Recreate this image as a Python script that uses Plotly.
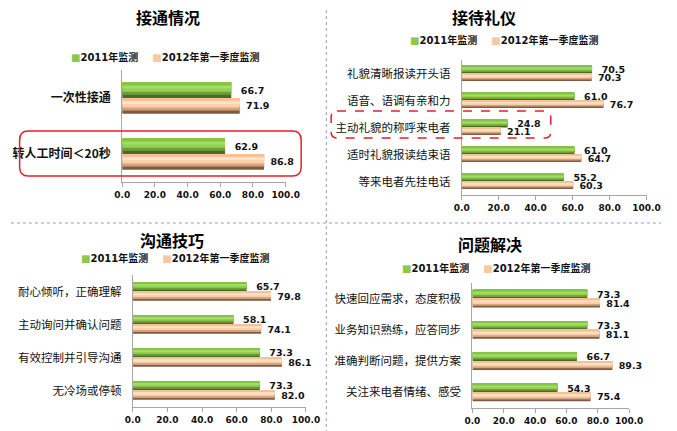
import plotly.graph_objects as go

W, H = 677, 431

name_2011 = '2011年监测'
name_2012 = '2012年第一季度监测'

cats_jietong = ['一次性接通', '转人工时间＜20秒']
jietong_2011 = [66.7, 62.9]
jietong_2012 = [71.9, 86.8]

cats_liyi = ['礼貌清晰报读开头语', '语音、语调有亲和力', '主动礼貌的称呼来电者',
             '适时礼貌报读结束语', '等来电者先挂电话']
liyi_2011 = [70.5, 61.0, 24.8, 61.0, 55.2]
liyi_2012 = [70.3, 76.7, 21.1, 64.7, 60.3]

cats_goutong = ['耐心倾听，正确理解', '主动询问并确认问题', '有效控制并引导沟通', '无冷场或停顿']
goutong_2011 = [65.7, 58.1, 73.3, 73.3]
goutong_2012 = [79.8, 74.1, 86.1, 82.0]

cats_jiejue = ['快速回应需求，态度积极', '业务知识熟练，应答同步', '准确判断问题，提供方案',
               '关注来电者情绪、感受']
jiejue_2011 = [73.3, 73.3, 66.7, 54.3]
jiejue_2012 = [81.4, 81.1, 89.3, 75.4]

# bar shading, listed bottom -> top
green_shades = ['#456e24', '#6e9f38', '#93d054', '#a6db6a', '#84c444']
peach_shades = ['#7d5b42', '#d6a47c', '#f8cfa8', '#fde3c9', '#f5c298']
GREEN = '#8cc84b'
PEACH = '#f8c8a0'
BW = 0.28

CJK = 'Noto Sans CJK SC'
NUM = 'DejaVu Sans, Noto Sans CJK SC'


def X(v):
    return v / W


def Y(v):
    return 1 - v / H


panels = [
    dict(title='接通情况', cats=cats_jietong, a=jietong_2011, b=jietong_2012,
         xd=(118, 287), yd=(70, 182), tpos=(165, 17), lpos=(163, 57), bold=True),
    dict(title='接待礼仪', cats=cats_liyi, a=liyi_2011, b=liyi_2012,
         xd=(469, 660), yd=(60, 195), tpos=(492, 17), lpos=(513, 40), bold=False),
    dict(title='沟通技巧', cats=cats_goutong, a=goutong_2011, b=goutong_2012,
         xd=(129, 308), yd=(275, 407), tpos=(170, 240), lpos=(173, 258), bold=False),
    dict(title='问题解决', cats=cats_jiejue, a=jiejue_2011, b=jiejue_2012,
         xd=(480, 642), yd=(283, 408), tpos=(498, 244), lpos=(505, 268), bold=False),
]

fig = go.Figure()
annotations = []
layout_axes = {}

for i, p in enumerate(panels):
    sfx = '' if i == 0 else str(i + 1)
    xa, ya = 'x' + sfx, 'y' + sfx
    series = [(p['a'], green_shades, -BW, '\u00a0\u00a0'),
              (p['b'], peach_shades, 0.0, '\u00a0')]
    for vals, shades, off, pad in series:
        n = len(shades)
        for k, col in enumerate(shades):
            fig.add_trace(go.Bar(
                x=vals, y=p['cats'], orientation='h',
                width=BW * (n - k) / n, offset=off,
                marker=dict(color=col, line=dict(width=0)),
                xaxis=xa, yaxis=ya, hoverinfo='skip', showlegend=False))
    for vals, shades, off, pad in series:
        fig.add_trace(go.Bar(
            x=vals, y=p['cats'], orientation='h', width=BW, offset=off,
            marker=dict(color='rgba(0,0,0,0)', line=dict(width=0)),
            text=vals, texttemplate=pad + '%{x:.1f}', textposition='outside',
            constraintext='none', cliponaxis=False,
            textfont=dict(family=NUM, size=9.5, color='#111', weight='bold'),
            xaxis=xa, yaxis=ya, hoverinfo='skip', showlegend=False))

    n = len(p['cats'])
    layout_axes['xaxis' + sfx] = dict(
        domain=[X(p['xd'][0]), X(p['xd'][1])], anchor=ya,
        range=[0, 100], dtick=20, tickformat='.1f',
        showline=True, linecolor='#a6a6a6', linewidth=1,
        ticks='outside', ticklen=4, tickcolor='#a6a6a6',
        showgrid=False, zeroline=False,
        tickfont=dict(family=NUM, size=9, color='#111', weight='bold'))
    layout_axes['yaxis' + sfx] = dict(
        domain=[Y(p['yd'][1]), Y(p['yd'][0])], anchor=xa,
        type='category', range=[n - 0.5, -0.5],
        showline=True, linecolor='#a6a6a6', linewidth=1,
        ticks='', showgrid=False, zeroline=False, ticklabelstandoff=8,
        tickfont=dict(family=CJK, size=12 if p['bold'] else 11.5, color='#111',
                      weight='bold' if p['bold'] else 'normal'))

    annotations.append(dict(
        text=p['title'], x=X(p['tpos'][0]), y=Y(p['tpos'][1]),
        xref='paper', yref='paper', showarrow=False,
        xanchor='center', yanchor='middle',
        font=dict(family=CJK, size=16, color='#000', weight='bold')))
    annotations.append(dict(
        text=(f'<span style="color:{GREEN}">■</span>{name_2011}'
              f'\u00a0\u00a0\u00a0\u00a0<span style="color:{PEACH}">■</span>{name_2012}'),
        x=X(p['lpos'][0]), y=Y(p['lpos'][1]),
        xref='paper', yref='paper', showarrow=False,
        xanchor='center', yanchor='middle',
        font=dict(family=NUM, size=10, color='#111', weight='bold')))


def rrect(x0, y0, x1, y1, r):
    return (f'M{X(x0 + r)},{Y(y0)} L{X(x1 - r)},{Y(y0)} '
            f'Q{X(x1)},{Y(y0)} {X(x1)},{Y(y0 + r)} L{X(x1)},{Y(y1 - r)} '
            f'Q{X(x1)},{Y(y1)} {X(x1 - r)},{Y(y1)} L{X(x0 + r)},{Y(y1)} '
            f'Q{X(x0)},{Y(y1)} {X(x0)},{Y(y1 - r)} L{X(x0)},{Y(y0 + r)} '
            f'Q{X(x0)},{Y(y0)} {X(x0 + r)},{Y(y0)} Z')


divider = dict(color='#8ea2bf', width=1, dash='dot')
shapes = [
    dict(type='line', xref='paper', yref='paper',
         x0=X(329), x1=X(329), y0=Y(10), y1=Y(431), line=divider),
    dict(type='line', xref='paper', yref='paper',
         x0=X(3), x1=X(675), y0=Y(223), y1=Y(223), line=divider),
    dict(type='path', xref='paper', yref='paper', path=rrect(12, 131, 303, 176, 9),
         line=dict(color='#e3202a', width=1.5)),
    dict(type='path', xref='paper', yref='paper', path=rrect(334, 111, 561, 138, 6),
         line=dict(color='#e3202a', width=1.5, dash='dash')),
]

fig.update_layout(
    width=W, height=H,
    margin=dict(l=0, r=0, t=0, b=0),
    paper_bgcolor='white', plot_bgcolor='white',
    barmode='overlay', showlegend=False,
    annotations=annotations, shapes=shapes,
    **layout_axes)

# drop the default page margin so the figure sits at the window's corner
fig.write_html('out.html', config={'displayModeBar': False},
               post_script="document.body.style.margin='0';")
